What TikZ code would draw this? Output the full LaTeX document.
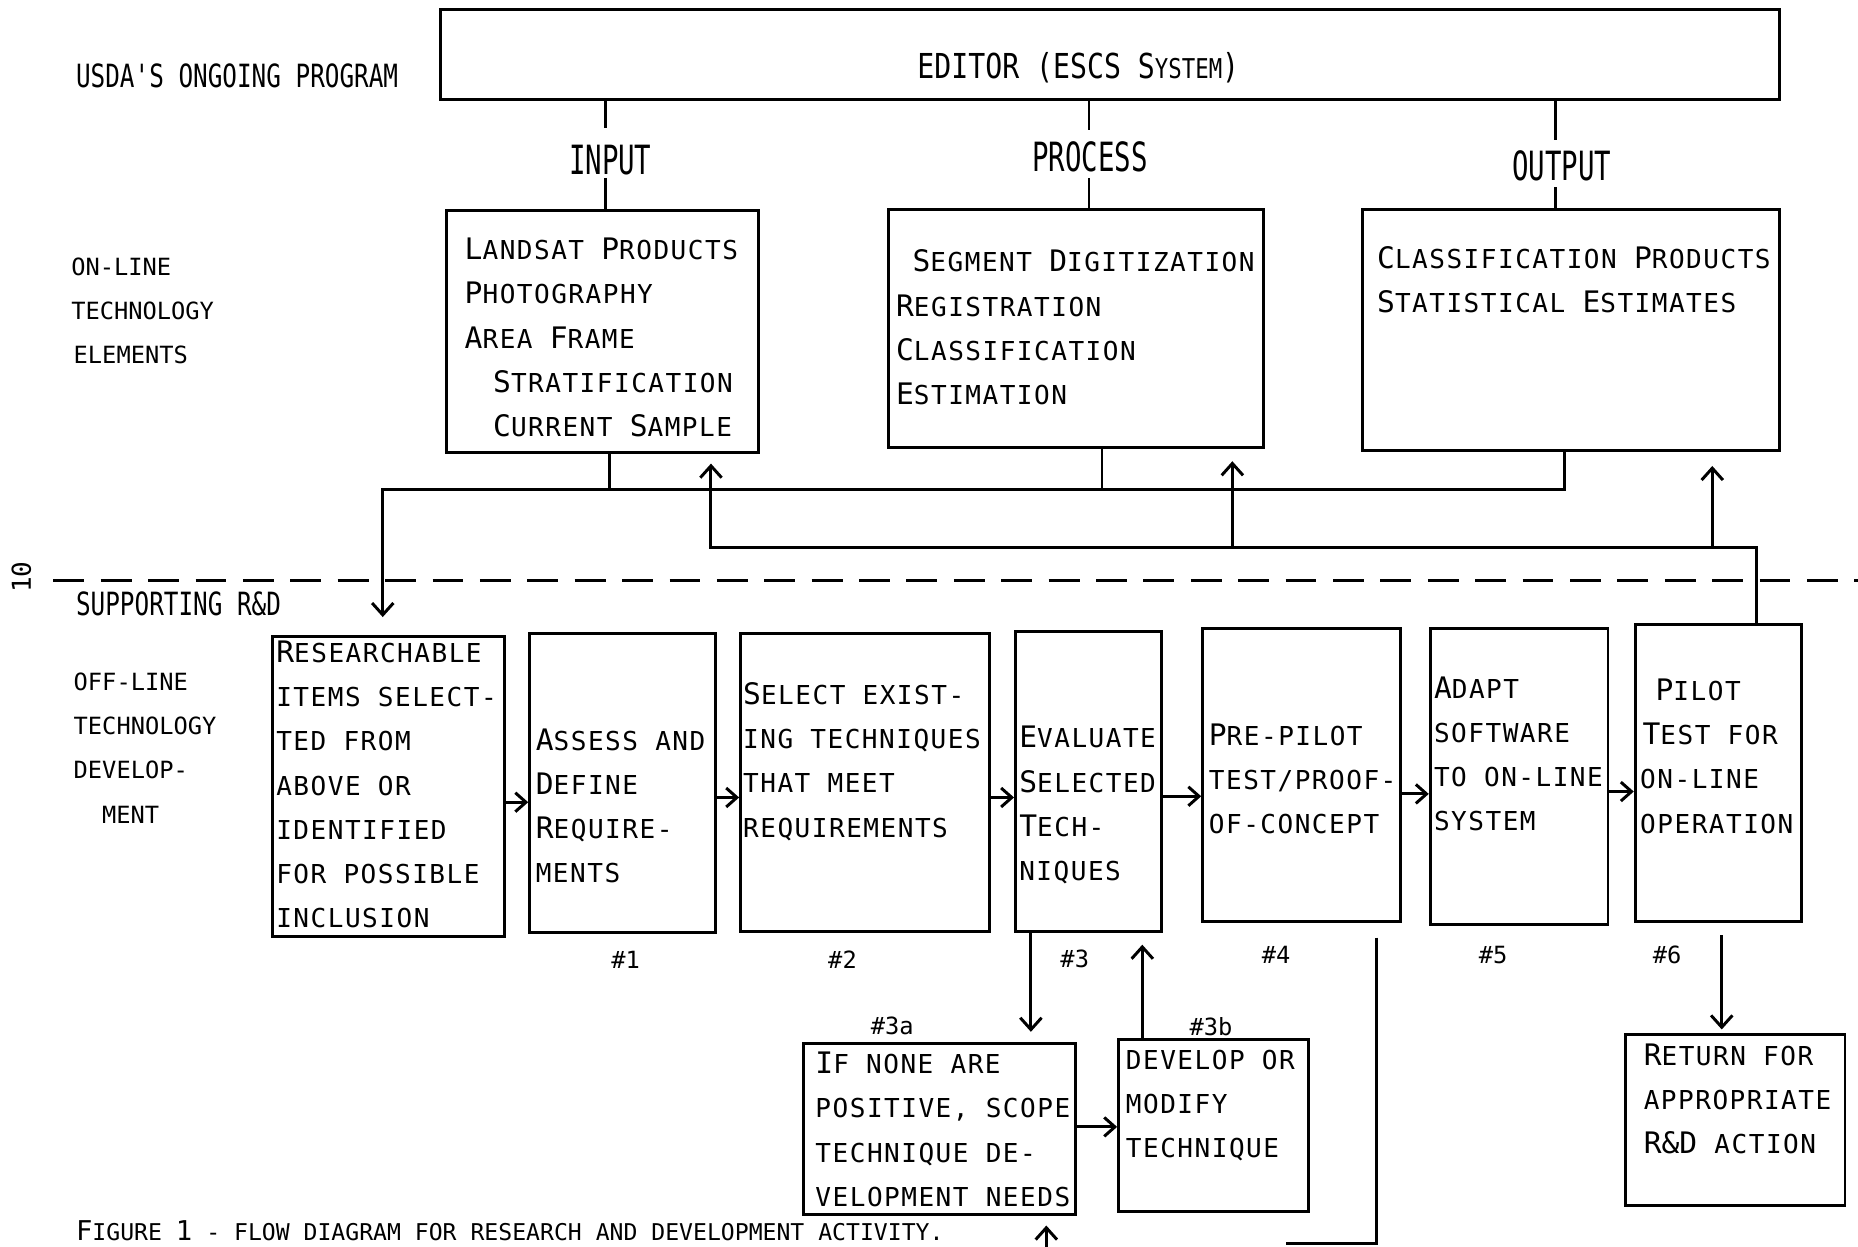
\documentclass[tikz,border=0pt]{standalone}
\usepackage{fontspec}
\usepackage{graphicx}
\usetikzlibrary{arrows.meta,calc}
\newfontfamily\tw[LetterSpace=5.7]{DejaVu Sans Mono}
\newfontfamily\twb{DejaVu Sans Mono}
\newfontfamily\twn{DejaVu Sans Mono}
\newcommand\sm{\fontsize{22}{37.3}\selectfont}
\newcommand\Bg[1]{{\twb\fontsize{25}{37.3}\selectfont #1}}
\newcommand\lett[2]{\scalebox{#1}[1]{#2}}
\begin{document}
\begin{tikzpicture}[x=1pt,y=-1pt,
 bx/.style={draw, line width=2.5pt, rectangle, inner sep=0pt},
 txt/.style={anchor=north west, inner sep=0pt, align=left, font=\tw\sm, execute at begin node={\rule{0pt}{20pt}}},
 lbl/.style={anchor=north west, inner sep=0pt, align=left, font=\twn\fontsize{20}{37.4}\selectfont, execute at begin node={\rule{0pt}{20pt}}},
 hand/.style={anchor=west, inner sep=0pt, font=\twn\fontsize{27}{30}\selectfont},
 flow/.style={anchor=base, inner sep=0pt, font=\twn\fontsize{34}{36}\selectfont},
 num/.style={inner sep=0pt, font=\twn\fontsize{20}{24}\selectfont},
 con/.style={line width=2.5pt, line join=miter},
 arr/.style={con, -{Straight Barb[length=10pt,width=18pt,line width=2.5pt]}},
 harr/.style={con, -{Straight Barb[length=9pt,width=16pt,line width=2.5pt]}},
]
\useasboundingbox (0,0) rectangle (1568,1052);
\clip (0,0) rectangle (1568,1052);
\fill[white] (0,0) rectangle (1568,1052);

% ---------- coordinates used for connector x positions
\coordinate (xin) at (511,0);
\coordinate (xpr) at (919,0);
\coordinate (xout) at (1313,0);
\coordinate (c514) at (514,0);
\coordinate (c930) at (930,0);
\coordinate (c1320) at (1320,0);
\coordinate (c1040) at (1040,0);
\coordinate (c1445) at (1445,0);
\coordinate (c1482) at (1482,0);
\coordinate (c870) at (870,0);
\coordinate (c964) at (964,0);
\coordinate (c1453) at (1453,0);
\coordinate (busA) at (323,413);
\coordinate (busB) at (600,462);
\coordinate (dashL) at (45,490);
\coordinate (dashR) at (1568,490);
\coordinate (fbA) at (1085,1049);
\coordinate (fbB) at (883,1062);

% ---------- boxes
\node[bx, minimum width=1130pt, minimum height=76pt] (editor) at (937,46) {};
\node[bx, minimum width=263pt, minimum height=204pt] (in) at (508.5,280) {};
\node[bx, minimum width=316pt, minimum height=201pt] (proc) at (908,277.5) {};
\node[bx, minimum width=352pt, minimum height=203pt] (out) at (1326,278.5) {};

\node[bx, minimum width=196pt, minimum height=253pt] (res) at (328,663.5) {};
\node[bx, minimum width=157pt, minimum height=252pt] (ass) at (525.5,661) {};
\node[bx, minimum width=210pt, minimum height=251pt] (sel) at (730,660.5) {};
\node[bx, minimum width=123pt, minimum height=253pt] (eva) at (918.5,659.5) {};
\node[bx, minimum width=167pt, minimum height=248pt] (pre) at (1098.5,654) {};
\node[bx, minimum width=150pt, minimum height=250pt] (ada) at (1282,655) {};
\node[bx, minimum width=140pt, minimum height=251pt] (pil) at (1450,652.5) {};

\node[bx, minimum width=230pt, minimum height=144pt] (n3a) at (793,953) {};
\node[bx, minimum width=160pt, minimum height=145pt] (n3b) at (1024,949.5) {};
\node[bx, minimum width=185pt, minimum height=144pt] (ret) at (1464.5,945) {};

% ---------- INPUT / PROCESS / OUTPUT labels
\node[flow, text height=39.4pt, text depth=2.6pt] (lin) at (515,147.4) {\lett{0.68}{INPUT}};
\node[flow, text height=35pt, text depth=5pt] (lpr) at (920,145) {\lett{0.68}{PROCESS}};
\node[flow, text height=34.4pt, text depth=5.6pt] (lout) at (1318,152.4) {\lett{0.68}{OUTPUT}};

\draw[con] (editor.south -| xin) -- (lin.north -| xin);
\draw[con] (lin.south -| xin) -- (in.north -| xin);
\draw[con] (editor.south -| xpr) -- (lpr.north -| xpr);
\draw[con] (lpr.south -| xpr) -- (proc.north -| xpr);
\draw[con] (editor.south -| xout) -- (lout.north -| xout);
\draw[con] (lout.south -| xout) -- (out.north -| xout);

% ---------- buses
\draw[con] (in.south -| c514) -- (c514 |- busA);
\draw[con] (proc.south -| c930) -- (c930 |- busA);
\draw[arr, shorten >=15pt] (out.south -| c1320) |- (busA) -- (res.north -| busA);

\draw[arr, shorten >=8pt] (pil.north -| c1482) |- (busB) -- (in.south -| busB);
\draw[arr, shorten >=10pt] (c1040 |- busB) -- (proc.south -| c1040);
\draw[arr, shorten >=12pt] (c1445 |- busB) -- (out.south -| c1445);

% ---------- dashed separator
\draw[line width=3pt, dash pattern=on 26pt off 14pt] (dashL) -- (dashR);

% ---------- row arrows
\draw[harr] ([yshift=-13.5pt]res.east) -- ([yshift=-13.5pt]res.east -| ass.west);
\draw[harr] ([yshift=-12pt]ass.east) -- ([yshift=-12pt]ass.east -| sel.west);
\draw[harr] ([yshift=-12.5pt]sel.east) -- ([yshift=-12.5pt]sel.east -| eva.west);
\draw[harr] ([yshift=-12.5pt]eva.east) -- ([yshift=-12.5pt]eva.east -| pre.west);
\draw[harr] ([yshift=-16pt]pre.east) -- ([yshift=-16pt]pre.east -| ada.west);
\draw[harr] ([yshift=-13pt]ada.east) -- ([yshift=-13pt]ada.east -| pil.west);

% ---------- lower arrows
\draw[arr, shorten >=9pt] (eva.south -| c870) -- (n3a.north -| c870);
\draw[arr, shorten >=10pt] (n3b.north -| c964) -- (eva.south -| c964);
\draw[harr] ([yshift=2pt]n3a.east) -- ([yshift=2pt]n3a.east -| n3b.west);
\draw[arr, shorten <=10pt, shorten >=3pt] (pil.south -| c1453) -- (ret.north -| c1453);
\draw[con] ([xshift=-22pt,yshift=-12pt]pre.south east) |- (fbA);
\draw[arr, shorten >=8pt] (fbB) -- (fbB |- n3a.south);

% ---------- box texts
\node[txt] (tin) at (392,200.7) {\Bg{L}ANDSAT \Bg{P}RODUCTS\\\Bg{P}HOTOGRAPHY\\\Bg{A}REA \Bg{F}RAME\\\hspace*{24pt}\Bg{S}TRATIFICATION\\\hspace*{24pt}\Bg{C}URRENT \Bg{S}AMPLE};
\node[txt] (tproc) at (756,210.7) {\hspace*{14pt}\Bg{S}EGMENT \Bg{D}IGITIZATION\\\Bg{R}EGISTRATION\\\Bg{C}LASSIFICATION\\\Bg{E}STIMATION};
\node[txt] (tout) at (1162,207.7) {\Bg{C}LASSIFICATION \Bg{P}RODUCTS\\\Bg{S}TATISTICAL \Bg{E}STIMATES};

\node[txt] (tres) at (233,540.7) {\Bg{R}ESEARCHABLE\\ITEMS SELECT-\\TED FROM\\ABOVE OR\\IDENTIFIED\\FOR POSSIBLE\\INCLUSION};
\node[txt] (tass) at (452,614.7) {\Bg{A}SSESS AND\\\Bg{D}EFINE\\\Bg{R}EQUIRE-\\MENTS};
\node[txt] (tsel) at (627,575.7) {\Bg{S}ELECT EXIST-\\ING TECHNIQUES\\THAT MEET\\REQUIREMENTS};
\node[txt] (teva) at (860,612.7) {\Bg{E}VALUATE\\\Bg{S}ELECTED\\\Bg{T}ECH-\\NIQUES};
\node[txt] (tpre) at (1020,610.7) {\Bg{P}RE-PILOT\\TEST/PROOF-\\OF-CONCEPT};
\node[txt] (tada) at (1210,570.7) {\Bg{A}DAPT\\SOFTWARE\\TO ON-LINE\\SYSTEM};
\node[txt] (tpil) at (1384,572.7) {\hspace*{13pt}\Bg{P}ILOT\\\hspace*{2pt}\Bg{T}EST FOR\\ON-LINE\\OPERATION};

\node[txt] (t3a) at (688,887.7) {\Bg{I}F NONE ARE\\POSITIVE, SCOPE\\TECHNIQUE DE-\\VELOPMENT NEEDS};
\node[txt] (t3b) at (950,885.7) {DEVELOP OR\\MODIFY\\TECHNIQUE};
\node[txt] (tret) at (1387,880.7) {\Bg{R}ETURN FOR\\APPROPRIATE\\\Bg{R\&D} ACTION};

% ---------- editor text
\node[inner sep=0pt, font=\twn\fontsize{29}{30}\selectfont] (tedit) at (910,57) {\lett{0.82}{EDITOR (ESCS S{\fontsize{23}{30}\selectfont YSTEM})}};

% ---------- side labels
\node[hand] (usda) at (64,64) {\lett{0.76}{USDA'S ONGOING PROGRAM}};
\node[lbl] (online) at (60,217.3) {ON-LINE\\TECHNOLOGY\\\hspace*{2pt}ELEMENTS};
\node[hand] (supp) at (64,510) {\lett{0.76}{SUPPORTING R\&D}};
\node[lbl] (offline) at (62,567.3) {OFF-LINE\\TECHNOLOGY\\DEVELOP-\\\hspace*{24pt}MENT};

% ---------- step numbers
\node[num] (s1) at (528,810) {\#1};
\node[num] (s2) at (711,810) {\#2};
\node[num] (s3) at (907,809) {\#3};
\node[num] (s4) at (1077,806) {\#4};
\node[num] (s5) at (1260,806) {\#5};
\node[num] (s6) at (1407,806) {\#6};
\node[num] (s3a) at (753,866) {\#3a};
\node[num] (s3b) at (1022,866) {\#3b};

% ---------- page number and caption
\node[rotate=90, inner sep=0pt, font=\twn\fontsize{22}{24}\selectfont] (pg) at (18,487) {10};
\node[anchor=base west, inner sep=0pt, font=\twn\fontsize{19.5}{24}\selectfont] (cap) at (64,1047) {{\fontsize{23}{24}\selectfont F}IGURE {\fontsize{23}{24}\selectfont 1} - FLOW DIAGRAM FOR RESEARCH AND DEVELOPMENT ACTIVITY.};
\end{tikzpicture}
\end{document}
